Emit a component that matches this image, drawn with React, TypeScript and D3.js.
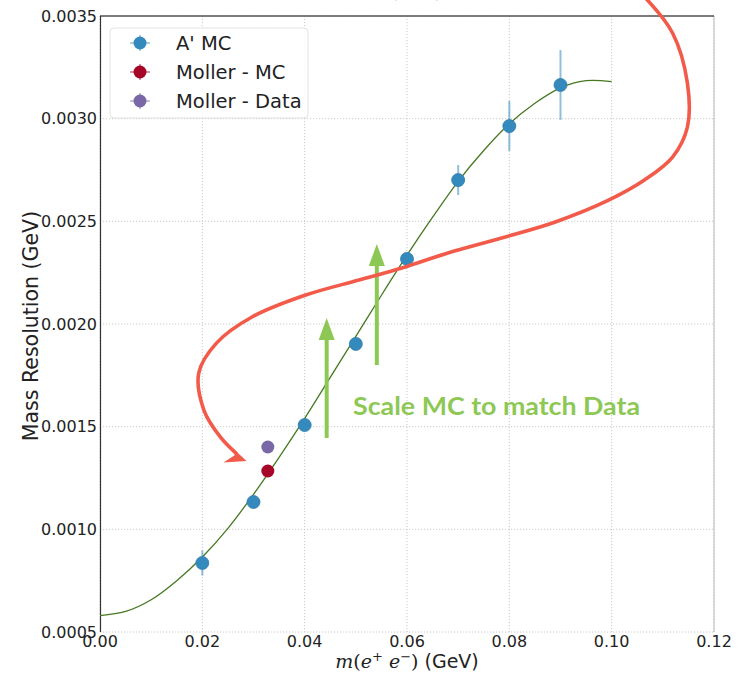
import * as d3 from "d3";

// A' MC mass points
const massPoints = [0.02, 0.03, 0.04, 0.05, 0.06, 0.07, 0.08, 0.09];
const aMCRes = [0.000836, 0.001133, 0.001508, 0.001903, 0.002317, 0.002701, 0.002964, 0.003164];
const aMCErr = [0.000061, 0.00002, 0.00002, 0.00002, 0.000025, 0.000073, 0.000122, 0.00017];

// Moller points
const mollerMass = [0.0328];
const mollerMCRes = [0.001284];
const mollerDataRes = [0.001401];

// fit curve
const fitMass = [0, 0.005, 0.01, 0.015, 0.02, 0.025, 0.03, 0.035, 0.04, 0.045, 0.05, 0.055, 0.06, 0.065, 0.07, 0.075, 0.08, 0.085, 0.09, 0.095, 0.1];
const fitRes = [0.00058, 0.0006, 0.000657, 0.00075, 0.000865, 0.001005, 0.00117, 0.00135, 0.00154, 0.00174, 0.00194, 0.00214, 0.002335, 0.00252, 0.002695, 0.002845, 0.002975, 0.003075, 0.00315, 0.003185, 0.00318];

const xTicks = [0, 0.02, 0.04, 0.06, 0.08, 0.1, 0.12];
const yTicks = [0.0005, 0.001, 0.0015, 0.002, 0.0025, 0.003, 0.0035];

// hand-drawn red S arrow (data units)
const swirlX = [0.1066, 0.1119, 0.1148, 0.1148, 0.1119, 0.1064, 0.0994, 0.089, 0.0785, 0.068, 0.059, 0.0506, 0.0402, 0.0297, 0.0228, 0.0193, 0.0203, 0.0235, 0.0266];
const swirlY = [0.003588, 0.003417, 0.003174, 0.002959, 0.002813, 0.002701, 0.002603, 0.002497, 0.002419, 0.002346, 0.002273, 0.002214, 0.002141, 0.002034, 0.001908, 0.001761, 0.001581, 0.00145, 0.00137];
const swirlHeadX = [0.02864, 0.02414, 0.02639, 0.02531];
const swirlHeadY = [0.001333, 0.001326, 0.001362, 0.00141];

// green "scale" arrows
const arrowX = [0.0443, 0.0541];
const arrowFrom = [0.001445, 0.0018];
const arrowTo = [0.002029, 0.00239];

const legendItems = [
  { label: "A' MC", color: "#348ABD" },
  { label: "Moller - MC", color: "#A60628" },
  { label: "Moller - Data", color: "#7A68A6" },
];

const W = 739;
const H = 673;
const font = "'DejaVu Sans', sans-serif";
const serif = "'DejaVu Serif', serif";
const red = "#f25a4a";
const lime = "#8dc855";

export default function App() {
  const x = d3.scaleLinear().domain([0, 0.12]).range([100, 714]);
  const y = d3.scaleLinear().domain([0.0005, 0.0035]).range([632, 16]);

  const fitLine = d3
    .line<number>()
    .x((d) => x(d))
    .y((_, i) => y(fitRes[i]))
    .curve(d3.curveCatmullRom.alpha(0))(fitMass);

  const swirl = d3
    .line<number>()
    .x((d) => x(d))
    .y((_, i) => y(swirlY[i]))
    .curve(d3.curveCatmullRom)(swirlX);

  const head = swirlHeadX.map((d, i) => `${x(d)},${y(swirlHeadY[i])}`).join(" ");

  return (
    <svg
      width={W}
      height={H}
      style={{ position: "absolute", left: 0, top: 0, background: "#fff" }}
      fontFamily={font}
    >
      {/* cut-off title at the top */}
      <text x={435} y={-2} textAnchor="middle" fontSize={17} fill="#777">
        <tspan fontFamily={serif} fontStyle="italic">m</tspan>
        <tspan fontFamily={serif}>(</tspan>
        <tspan fontFamily={serif} fontStyle="italic">e⁺e⁻</tspan>
        <tspan fontFamily={serif}>)</tspan> (GeV)
      </text>

      {/* grid */}
      <g stroke="#c4c4c4" strokeWidth={0.9} strokeDasharray="1.2,1.8">
        {xTicks.map((t) => (
          <line key={"gx" + t} x1={x(t)} x2={x(t)} y1={16} y2={632} />
        ))}
        {yTicks.map((t) => (
          <line key={"gy" + t} x1={100} x2={714} y1={y(t)} y2={y(t)} />
        ))}
      </g>

      {/* spines */}
      <line x1={714} x2={714} y1={16} y2={632} stroke="#bcbcbc" strokeWidth={1} />
      <line x1={100} x2={714} y1={16} y2={16} stroke="#555" strokeWidth={1.5} />
      <line x1={100.5} x2={100.5} y1={16} y2={632} stroke="#333" strokeWidth={1.2} />

      {/* tick labels */}
      {yTicks.map((t) => (
        <text key={"ty" + t} x={97} y={y(t)} dy="0.36em" textAnchor="end" fontSize={16} fill="#222">
          {d3.format(".4f")(t)}
        </text>
      ))}
      {xTicks.map((t) => (
        <text key={"tx" + t} x={x(t)} y={647} textAnchor="middle" fontSize={16} fill="#222">
          {d3.format(".2f")(t)}
        </text>
      ))}

      {/* axis labels */}
      <text x={407} y={668} textAnchor="middle" fontSize={19} fill="#222">
        <tspan fontFamily={serif} fontStyle="italic">m</tspan>
        <tspan fontFamily={serif}>(</tspan>
        <tspan fontFamily={serif} fontStyle="italic">e</tspan>
        <tspan fontFamily={serif} fontSize={13} dy={-7}>+</tspan>
        <tspan fontFamily={serif} fontStyle="italic" dy={7}> e</tspan>
        <tspan fontFamily={serif} fontSize={13} dy={-7}>−</tspan>
        <tspan fontFamily={serif} dy={7}>)</tspan>
        <tspan> (GeV)</tspan>
      </text>
      <text
        transform={`translate(38, ${(16 + 632) / 2 + 2}) rotate(-90)`}
        textAnchor="middle"
        fontSize={20.5}
        fill="#222"
      >
        Mass Resolution (GeV)
      </text>

      {/* fit */}
      <path d={fitLine ?? ""} fill="none" stroke="#467821" strokeWidth={1.3} />

      {/* A' MC with error bars */}
      {massPoints.map((m, i) => (
        <g key={"a" + m}>
          <line
            x1={x(m)}
            x2={x(m)}
            y1={y(aMCRes[i] - aMCErr[i])}
            y2={y(aMCRes[i] + aMCErr[i])}
            stroke="#348ABD"
            strokeOpacity={0.55}
            strokeWidth={2}
          />
          <circle cx={x(m)} cy={y(aMCRes[i])} r={6.5} fill="#348ABD" stroke="#2f7cab" strokeWidth={0.8} />
        </g>
      ))}

      {/* Moller */}
      {mollerMass.map((m, i) => (
        <g key={"m" + m}>
          <circle cx={x(m)} cy={y(mollerMCRes[i])} r={6.5} fill="#A60628" />
          <circle cx={x(m)} cy={y(mollerDataRes[i])} r={6.5} fill="#7A68A6" />
        </g>
      ))}

      {/* legend */}
      <g>
        <rect x={110} y={28} width={198} height={90} rx={4} fill="#fff" fillOpacity={0.85} stroke="#e2e2e2" />
        {legendItems.map((item, i) => {
          const cy = 43 + i * 29;
          return (
            <g key={item.label}>
              <line x1={130} x2={150} y1={cy} y2={cy} stroke={item.color} strokeOpacity={0.55} strokeWidth={1.5} />
              <line x1={140} x2={140} y1={cy - 8} y2={cy + 8} stroke={item.color} strokeOpacity={0.55} strokeWidth={1.5} />
              <circle cx={140} cy={cy} r={6.5} fill={item.color} />
              <text x={176} y={cy + 7} fontSize={19.5} fill="#222">
                {item.label}
              </text>
            </g>
          );
        })}
      </g>

      {/* green arrows */}
      {arrowX.map((ax, i) => (
        <g key={"ar" + ax}>
          <line x1={x(ax)} x2={x(ax)} y1={y(arrowFrom[i])} y2={y(arrowTo[i]) + 18} stroke={lime} strokeWidth={4} />
          <polygon
            points={`${x(ax)},${y(arrowTo[i])} ${x(ax) - 8},${y(arrowTo[i]) + 22} ${x(ax) + 8},${y(arrowTo[i]) + 22}`}
            fill={lime}
          />
        </g>
      ))}
      <text
        x={x(0.04946)}
        y={y(0.001557)}
        fontFamily="Lato, 'Open Sans', sans-serif"
        fontWeight="bold"
        fontSize={25}
        fill={lime}
        textLength={287}
        lengthAdjust="spacingAndGlyphs"
      >
        Scale MC to match Data
      </text>

      {/* red S-shaped arrow */}
      <path d={swirl ?? ""} fill="none" stroke={red} strokeWidth={3.6} strokeLinecap="round" />
      <polygon points={head} fill={red} />
    </svg>
  );
}
